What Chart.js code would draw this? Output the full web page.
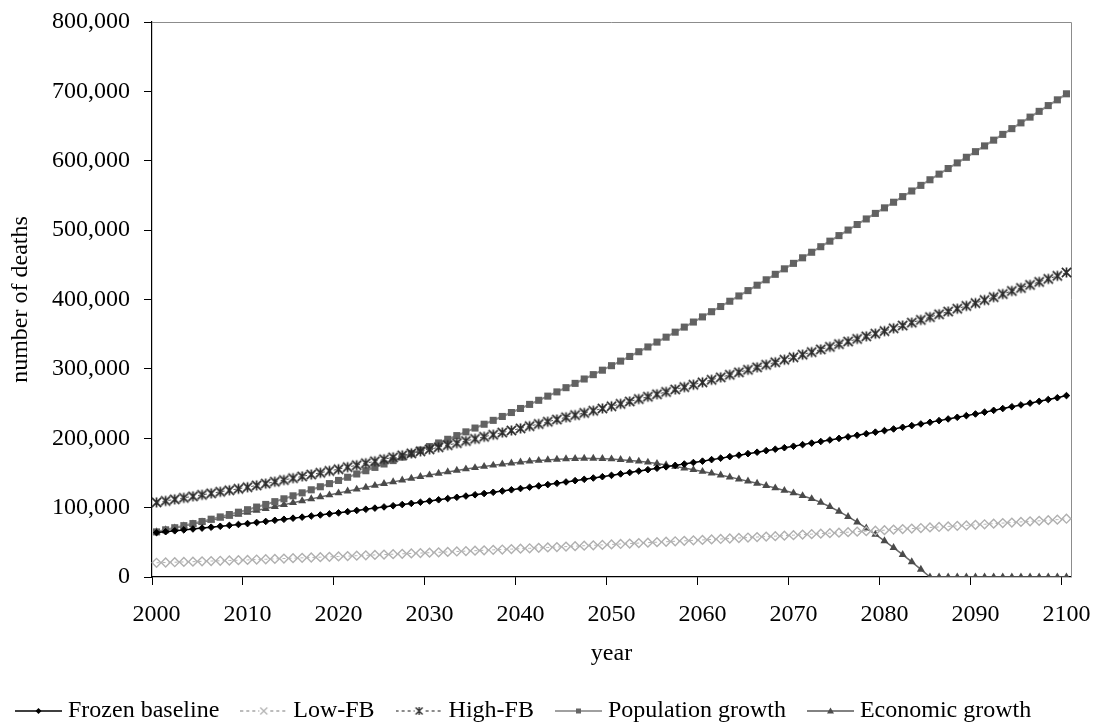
<!DOCTYPE html>
<html>
<head>
<meta charset="utf-8">
<title>number of deaths</title>
<script src="https://cdn.jsdelivr.net/npm/chart.js@4.4.0/dist/chart.umd.min.js"></script>
<style>
	html, body { margin: 0; padding: 0; background: #fff; }
</style>
</head>
<body>
<canvas id="myChart" width="1098" height="725"></canvas>
<script>
// categories
const years = [
	2000, 2001, 2002, 2003, 2004, 2005, 2006, 2007, 2008, 2009,
	2010, 2011, 2012, 2013, 2014, 2015, 2016, 2017, 2018, 2019,
	2020, 2021, 2022, 2023, 2024, 2025, 2026, 2027, 2028, 2029,
	2030, 2031, 2032, 2033, 2034, 2035, 2036, 2037, 2038, 2039,
	2040, 2041, 2042, 2043, 2044, 2045, 2046, 2047, 2048, 2049,
	2050, 2051, 2052, 2053, 2054, 2055, 2056, 2057, 2058, 2059,
	2060, 2061, 2062, 2063, 2064, 2065, 2066, 2067, 2068, 2069,
	2070, 2071, 2072, 2073, 2074, 2075, 2076, 2077, 2078, 2079,
	2080, 2081, 2082, 2083, 2084, 2085, 2086, 2087, 2088, 2089,
	2090, 2091, 2092, 2093, 2094, 2095, 2096, 2097, 2098, 2099,
	2100
];

// series values, in thousands of deaths
const frozenBaseline = [
	64.0, 65.3, 66.6, 67.9, 69.2, 70.5, 71.8, 73.1, 74.4, 75.7,
	77.0, 78.6, 80.1, 81.7, 83.2, 84.8, 86.3, 87.9, 89.4, 91.0,
	92.5, 94.2, 95.9, 97.6, 99.3, 101.0, 102.7, 104.4, 106.1, 107.8,
	109.5, 111.3, 113.1, 114.9, 116.7, 118.5, 120.3, 122.1, 123.9, 125.7,
	127.5, 129.4, 131.3, 133.2, 135.1, 137.0, 138.9, 140.8, 142.7, 144.6,
	146.5, 148.6, 150.6, 152.7, 154.7, 156.8, 158.8, 160.9, 162.9, 165.0,
	167.0, 169.2, 171.3, 173.5, 175.6, 177.8, 179.9, 182.1, 184.2, 186.4,
	188.5, 190.8, 193.0, 195.3, 197.5, 199.8, 202.0, 204.3, 206.5, 208.8,
	211.0, 213.4, 215.8, 218.2, 220.6, 223.0, 225.4, 227.8, 230.2, 232.6,
	235.0, 237.6, 240.2, 242.8, 245.4, 248.0, 250.6, 253.2, 255.8, 258.4,
	261.5
];
const lowFB = [
	20.5, 20.9, 21.3, 21.7, 22.1, 22.6, 23.0, 23.4, 23.8, 24.2,
	24.6, 25.2, 25.6, 26.1, 26.6, 27.1, 27.6, 28.1, 28.6, 29.1,
	29.6, 30.1, 30.7, 31.2, 31.8, 32.3, 32.9, 33.4, 34.0, 34.5,
	35.0, 35.6, 36.2, 36.8, 37.3, 37.9, 38.5, 39.1, 39.6, 40.2,
	40.8, 41.4, 42.0, 42.6, 43.2, 43.8, 44.4, 45.1, 45.7, 46.3,
	46.9, 47.6, 48.2, 48.9, 49.5, 50.2, 50.8, 51.5, 52.1, 52.8,
	53.4, 54.1, 54.8, 55.5, 56.2, 56.9, 57.6, 58.3, 58.9, 59.6,
	60.3, 61.1, 61.8, 62.5, 63.2, 63.9, 64.6, 65.4, 66.1, 66.8,
	67.5, 68.3, 69.1, 69.8, 70.6, 71.4, 72.1, 72.9, 73.7, 74.4,
	75.2, 76.0, 76.9, 77.7, 78.5, 79.4, 80.2, 81.0, 81.9, 82.7,
	84.0
];
const highFB = [
	107.5, 109.7, 111.9, 114.1, 116.3, 118.4, 120.6, 122.8, 125.0, 127.2,
	129.4, 132.0, 134.6, 137.3, 139.8, 142.5, 145.0, 147.7, 150.2, 152.9,
	155.4, 158.3, 161.1, 164.0, 166.8, 169.7, 172.5, 175.4, 178.2, 181.1,
	184.0, 187.0, 190.0, 193.0, 196.1, 199.1, 202.1, 205.1, 208.2, 211.2,
	214.2, 217.4, 220.6, 223.8, 227.0, 230.2, 233.4, 236.5, 239.7, 242.9,
	246.1, 249.6, 253.0, 256.5, 259.9, 263.4, 266.8, 270.3, 273.7, 277.2,
	280.6, 284.3, 287.8, 291.5, 295.0, 298.7, 302.2, 305.9, 309.5, 313.2,
	316.7, 320.5, 324.2, 328.1, 331.8, 335.7, 339.4, 343.2, 346.9, 350.8,
	354.5, 358.5, 362.5, 366.6, 370.6, 374.6, 378.7, 382.7, 386.7, 390.8,
	394.8, 399.2, 403.5, 407.9, 412.3, 416.6, 421.0, 425.4, 429.7, 434.1,
	439.0
];
const populationGrowth = [
	65.0, 68.0, 71.0, 74.0, 77.0, 80.0, 83.3, 86.6, 90.0, 93.4,
	97.0, 100.8, 104.6, 108.6, 112.7, 117.0, 121.3, 125.7, 130.1, 134.6,
	139.2, 143.8, 148.5, 153.2, 158.0, 162.9, 167.8, 172.8, 177.8, 182.9,
	188.0, 193.2, 198.5, 203.8, 209.2, 214.7, 220.2, 225.8, 231.4, 237.1,
	242.9, 248.8, 254.7, 260.7, 266.8, 272.9, 279.1, 285.4, 291.7, 298.1,
	304.6, 311.2, 317.9, 324.7, 331.6, 338.6, 345.7, 352.9, 360.2, 367.5,
	374.9, 382.4, 389.9, 397.5, 405.1, 412.8, 420.6, 428.4, 436.3, 444.2,
	452.1, 460.1, 468.1, 476.1, 484.1, 492.1, 500.1, 508.1, 516.1, 524.1,
	532.1, 540.2, 548.3, 556.4, 564.5, 572.6, 580.7, 588.8, 596.9, 605.0,
	613.1, 621.4, 629.7, 638.0, 646.3, 654.6, 662.9, 671.2, 679.5, 687.8,
	696.5
];
const economicGrowth = [
	65.0, 67.8, 70.6, 73.4, 76.2, 79.0, 81.8, 84.6, 87.4, 90.2,
	93.0, 95.8, 98.6, 101.4, 104.2, 107.0, 109.8, 112.6, 115.4, 118.2,
	121.0, 123.8, 126.5, 129.2, 131.9, 134.5, 137.1, 139.6, 142.1, 144.6,
	147.0, 149.3, 151.5, 153.6, 155.6, 157.5, 159.3, 161.0, 162.6, 164.1,
	165.5, 166.8, 167.9, 168.8, 169.6, 170.2, 170.7, 171.0, 170.9, 170.6,
	170.0, 169.1, 168.0, 166.8, 165.3, 163.5, 161.5, 159.3, 157.0, 154.6,
	152.1, 149.5, 146.8, 144.0, 141.1, 138.1, 135.0, 131.7, 128.3, 124.7,
	121.0, 117.1, 112.7, 107.5, 101.3, 94.5, 87.0, 79.0, 70.5, 61.5,
	52.0, 42.3, 32.3, 21.8, 11.0, 0, 0, 0, 0, 0,
	0, 0, 0, 0, 0, 0, 0, 0, 0, 0,
	0
];

const seriesNames = ['Frozen baseline', 'Low-FB', 'High-FB', 'Population growth', 'Economic growth'];

const FONT = "'Liberation Serif', 'Times New Roman', serif";

// small canvases used as marker images
function makeCanvas(w, h, draw) {
	const c = document.createElement('canvas');
	c.width = w;
	c.height = h;
	draw(c.getContext('2d'), w, h);
	return c;
}

function drawStar(ctx, cx, cy, r, color, lw) {
	ctx.strokeStyle = color;
	ctx.lineWidth = lw;
	ctx.beginPath();
	ctx.moveTo(cx - r, cy - r); ctx.lineTo(cx + r, cy + r);
	ctx.moveTo(cx + r, cy - r); ctx.lineTo(cx - r, cy + r);
	ctx.moveTo(cx, cy - r - 0.5); ctx.lineTo(cx, cy + r + 0.5);
	ctx.stroke();
}

const starMarker = makeCanvas(13, 13, (ctx) => drawStar(ctx, 6.5, 6.5, 4.6, '#2b2b2b', 1.7));

// legend icons: line sample with marker in the middle
function legendIcon(lineColor, dash, marker) {
	return makeCanvas(47, 14, (ctx, w, h) => {
		ctx.strokeStyle = lineColor;
		ctx.lineWidth = 1.5;
		ctx.setLineDash(dash);
		ctx.beginPath();
		ctx.moveTo(0, h / 2);
		ctx.lineTo(w, h / 2);
		ctx.stroke();
		ctx.setLineDash([]);
		marker(ctx, w / 2, h / 2);
	});
}

const legendIcons = [
	legendIcon('#000000', [], (ctx, x, y) => {
		ctx.fillStyle = '#000';
		ctx.beginPath();
		ctx.moveTo(x, y - 3); ctx.lineTo(x + 3, y); ctx.lineTo(x, y + 3); ctx.lineTo(x - 3, y);
		ctx.closePath(); ctx.fill();
	}),
	legendIcon('#a6a6a6', [3, 3], (ctx, x, y) => {
		ctx.clearRect(x - 5, y - 5, 10, 10);
		ctx.strokeStyle = '#b3b3b3';
		ctx.lineWidth = 1.3;
		ctx.beginPath();
		ctx.moveTo(x - 3.5, y - 3.5); ctx.lineTo(x + 3.5, y + 3.5);
		ctx.moveTo(x + 3.5, y - 3.5); ctx.lineTo(x - 3.5, y + 3.5);
		ctx.stroke();
	}),
	legendIcon('#666666', [3, 3], (ctx, x, y) => {
		ctx.clearRect(x - 5, y - 5, 10, 10);
		drawStar(ctx, x, y, 3.5, '#333333', 1.4);
	}),
	legendIcon('#808080', [], (ctx, x, y) => {
		ctx.fillStyle = '#666666';
		ctx.fillRect(x - 2.5, y - 2.5, 5, 5);
	}),
	legendIcon('#595959', [], (ctx, x, y) => {
		ctx.fillStyle = '#4d4d4d';
		ctx.beginPath();
		ctx.moveTo(x, y - 3.5); ctx.lineTo(x + 3.5, y + 2.5); ctx.lineTo(x - 3.5, y + 2.5);
		ctx.closePath(); ctx.fill();
	})
];

// gray frame on the top and right of the plot area
const plotFrame = {
	id: 'plotFrame',
	beforeDatasetsDraw(chart) {
		const {ctx, chartArea: a} = chart;
		ctx.save();
		ctx.strokeStyle = '#8c8c8c';
		ctx.lineWidth = 1;
		ctx.beginPath();
		ctx.moveTo(a.left, a.top + 0.5);
		ctx.lineTo(a.right + 0.5, a.top + 0.5);
		ctx.lineTo(a.right + 0.5, a.bottom);
		ctx.stroke();
		ctx.restore();
	}
};

const toDeaths = v => v * 1000;

const chart = new Chart(document.getElementById('myChart').getContext('2d'), {
	type: 'line',
	data: {
		labels: years,
		datasets: [{
			label: seriesNames[0],
			data: frozenBaseline.map(toDeaths),
			borderColor: '#000000',
			borderWidth: 1.5,
			pointStyle: 'rectRot',
			pointRadius: 3.3,
			pointBackgroundColor: '#000000',
			pointBorderColor: '#000000',
			pointBorderWidth: 1
		}, {
			label: seriesNames[1],
			data: lowFB.map(toDeaths),
			borderColor: '#b3b3b3',
			borderWidth: 1,
			borderDash: [3, 3],
			pointStyle: 'rectRot',
			pointRadius: 4.4,
			pointBackgroundColor: 'rgba(255,255,255,0)',
			pointBorderColor: '#b0b0b0',
			pointBorderWidth: 1.4
		}, {
			label: seriesNames[2],
			data: highFB.map(toDeaths),
			borderColor: '#595959',
			borderWidth: 1,
			borderDash: [3, 3],
			pointStyle: starMarker,
			pointRadius: 5
		}, {
			label: seriesNames[3],
			data: populationGrowth.map(toDeaths),
			borderColor: '#8c8c8c',
			borderWidth: 2,
			pointStyle: 'rect',
			pointRadius: 5,
			pointBackgroundColor: '#626262',
			pointBorderColor: '#626262',
			pointBorderWidth: 0
		}, {
			label: seriesNames[4],
			data: economicGrowth.map(toDeaths),
			borderColor: '#666666',
			borderWidth: 1.5,
			pointStyle: 'triangle',
			pointRadius: 4.6,
			pointBackgroundColor: '#4a4a4a',
			pointBorderColor: '#4a4a4a',
			pointBorderWidth: 0
		}]
	},
	options: {
		responsive: false,
		animation: false,
		events: [],
		layout: {
			padding: { top: 22, right: 27, bottom: -8, left: -6 }
		},
		plugins: {
			tooltip: { enabled: false },
			legend: {
				position: 'bottom',
				align: 'start',
				labels: {
					usePointStyle: true,
					pointStyleWidth: 35,
					padding: 27,
					color: '#000',
					font: { family: FONT, size: 24 },
					generateLabels: (c) => c.data.datasets.map((ds, i) => ({
						text: ds.label,
						pointStyle: legendIcons[i],
						fillStyle: 'rgba(0,0,0,0)',
						strokeStyle: 'rgba(0,0,0,0)',
						lineWidth: 0,
						hidden: false,
						datasetIndex: i,
						fontColor: '#000'
					}))
				}
			}
		},
		scales: {
			x: {
				type: 'category',
				offset: true,
				afterFit: (scale) => {
					scale.height = 95;
					scale.paddingLeft = 0;
					scale.paddingRight = 0;
				},
				grid: {
					offset: true,
					drawOnChartArea: false,
					drawTicks: true,
					tickLength: 8,
					color: (ctx) => (ctx.index !== undefined && ctx.index % 10 === 0) ? '#000' : 'rgba(0,0,0,0)'
				},
				border: { display: true, color: '#000', width: 1.2 },
				ticks: {
					autoSkip: false,
					maxRotation: 0,
					padding: 15,
					color: '#000',
					font: { family: FONT, size: 24 },
					callback: (val, i) => (i % 10 === 0 ? String(years[i]) : '')
				},
				title: {
					display: true,
					text: 'year',
					color: '#000',
					font: { family: FONT, size: 24 },
					padding: { top: 0, bottom: 4 }
				}
			},
			y: {
				min: 0,
				max: 800000,
				afterFit: (scale) => {
					scale.width = 158;
					scale.paddingTop = 0;
					scale.paddingBottom = 0;
				},
				grid: {
					drawOnChartArea: false,
					drawTicks: true,
					tickLength: 8,
					color: '#000'
				},
				border: { display: true, color: '#000', width: 1.2 },
				ticks: {
					stepSize: 100000,
					padding: 14,
					color: '#000',
					font: { family: FONT, size: 24 },
					callback: (v) => v.toLocaleString('en-US')
				},
				title: {
					display: true,
					text: 'number of deaths',
					color: '#000',
					font: { family: FONT, size: 24 },
					padding: { top: 12, bottom: 0 }
				}
			}
		}
	},
	plugins: [plotFrame]
});
</script>
</body>
</html>
